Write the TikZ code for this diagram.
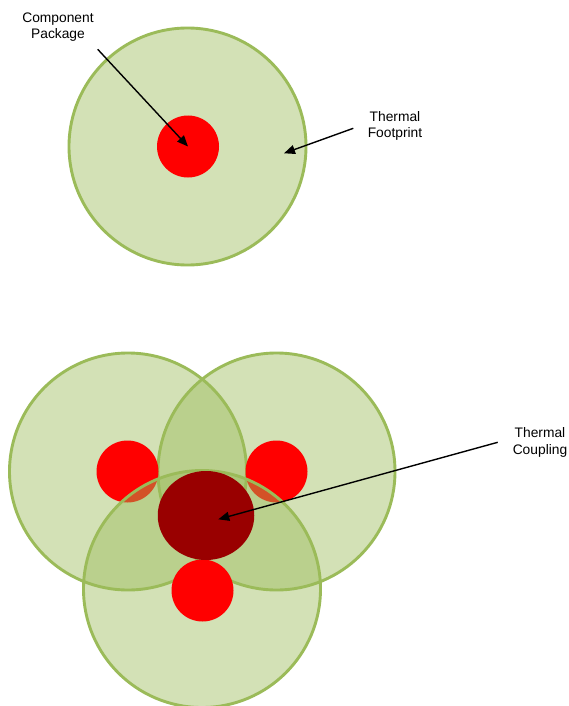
\documentclass[tikz,border=0pt]{standalone}
\usepackage{fontspec}
\setmainfont{Liberation Sans}
\usetikzlibrary{arrows.meta,shapes.geometric}
\definecolor{olive}{RGB}{155,187,89}
\definecolor{darkred}{RGB}{153,0,0}
\begin{document}
\begin{tikzpicture}[x=1pt,y=-1pt,
  footprint/.style={circle,inner sep=0pt,minimum size=237pt,draw=olive,line width=2.9pt,fill=olive,fill opacity=0.44,draw opacity=1},
  pkgdot/.style={circle,inner sep=0pt,minimum size=62pt,fill=red},
  hotspot/.style={ellipse,inner sep=0pt,minimum width=96.5pt,minimum height=89pt,fill=darkred},
  lbl/.style={align=center,font=\fontsize{13.8}{16.2}\selectfont,text=black,inner sep=0pt},
  pointer/.style={draw=black,line width=1.4pt,-{Triangle[length=11pt,width=9pt]}}]
\useasboundingbox (0,0) rectangle (568,706);
\fill[white] (0,0) rectangle (568,706);
% top
\node[footprint] (top) at (187.5,146.5) {};
\node[pkgdot] (pkg) at (188,146.5) {};
\node[lbl] (lblpkg) at (58,27.5) {Component\\Package};
\node[lbl] (lblfp) at (395,126) {Thermal\\Footprint};
\coordinate (s1) at (97.7,49.3);
\coordinate (s2) at (353.3,128.3);
\coordinate (e2) at (284,153.3);
\draw[pointer] (s1) -- (pkg.center);
\draw[pointer] (s2) -- (e2);
% bottom
\node[footprint] (gl) at (128,471.5) {};
\node[footprint] (gr) at (276.5,471.5) {};
\node[pkgdot] (rl) at (127.5,471.5) {};
\node[pkgdot] (rr) at (276.5,471.5) {};
\node[footprint] (gb) at (202,589) {};
\node[pkgdot] (rb) at (202.5,590.5) {};
\node[hotspot] (hot) at (206,515.5) {};
\node[lbl] (lblcp) at (540,442.5) {Thermal\\Coupling};
\coordinate (s3) at (497.7,442.3);
\coordinate (e3) at (218.3,519.3);
\draw[pointer] (s3) -- (e3);
\end{tikzpicture}
\end{document}
